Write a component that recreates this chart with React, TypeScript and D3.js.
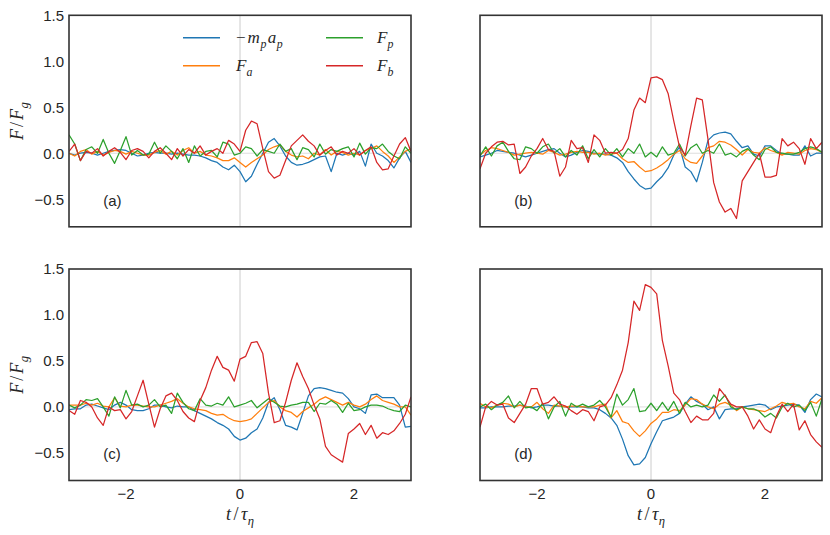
import React from "react";
import * as d3 from "d3";

// ---------- data ----------
const tGrid = d3.range(-30, 31).map((k) => k / 10);

const seriesNames = ["-m_p a_p", "F_a", "F_p", "F_b"];
const seriesColors = ["#1f77b4", "#ff7f0e", "#2ca02c", "#d62728"];

const xTicks = [-2, 0, 2];
const xTickLabels = ["\u22122", "0", "2"];
const yTicks = [-0.5, 0, 0.5, 1.0, 1.5];
const yTickLabels = ["\u22120.5", "0.0", "0.5", "1.0", "1.5"];
const panelLabels = ["(a)", "(b)", "(c)", "(d)"];

// panel (a)
const aBlue = [0.0, -0.02, 0.0, 0.01, 0.0, -0.02, 0.0, 0.02, 0.03, 0.04, 0.03, 0.0, -0.03, -0.02, 0.0, 0.01, 0.0, 0.0, -0.01, 0.0, -0.01, -0.02, -0.02, -0.03, -0.05, -0.08, -0.1, -0.15, -0.18, -0.13, -0.2, -0.31, -0.25, -0.12, 0.0, 0.12, 0.16, 0.08, -0.03, -0.1, -0.13, -0.12, -0.1, -0.07, -0.04, -0.03, -0.2, 0.0, -0.02, 0.0, -0.02, 0.02, -0.14, 0.1, 0.0, -0.03, -0.08, -0.16, -0.05, 0.02, -0.1];
const aOrange = [0.0, -0.03, 0.02, 0.04, -0.01, 0.02, -0.02, 0.01, 0.03, 0.02, -0.01, 0.02, 0.0, -0.02, -0.02, 0.01, 0.03, -0.01, 0.02, -0.02, 0.03, 0.06, 0.0, 0.02, -0.02, -0.03, -0.05, -0.08, -0.08, -0.05, -0.1, -0.15, -0.1, -0.06, -0.02, 0.04, 0.07, 0.09, 0.02, -0.02, -0.04, -0.03, -0.06, 0.0, -0.02, 0.04, -0.02, 0.02, 0.01, -0.02, 0.0, -0.02, 0.03, 0.05, 0.08, 0.02, -0.03, -0.1, -0.04, 0.02, 0.05];
const aGreen = [0.2, 0.1, -0.08, 0.04, 0.07, 0.0, 0.15, 0.0, -0.11, 0.03, 0.18, -0.02, 0.03, -0.02, -0.01, 0.12, 0.0, 0.08, 0.02, -0.06, 0.05, -0.1, 0.08, -0.03, 0.02, 0.03, -0.04, 0.12, 0.1, -0.02, 0.0, 0.07, 0.05, -0.03, 0.04, 0.02, 0.0, 0.1, 0.02, 0.05, -0.07, 0.06, 0.04, -0.04, 0.1, -0.01, 0.04, 0.02, 0.05, 0.07, -0.04, 0.11, -0.01, 0.06, 0.05, 0.1, 0.02, -0.03, -0.06, 0.07, 0.0];
const aRed = [0.02, 0.1, -0.08, 0.02, 0.0, 0.05, -0.03, 0.02, 0.06, 0.01, -0.07, 0.03, 0.05, 0.02, -0.05, 0.02, 0.06, 0.0, -0.07, 0.05, -0.03, 0.04, 0.0, 0.08, -0.02, 0.02, 0.05, 0.0, 0.14, 0.1, 0.02, 0.25, 0.35, 0.32, 0.05, -0.2, -0.27, -0.24, -0.08, 0.08, 0.14, 0.2, 0.13, 0.08, -0.02, 0.03, 0.07, -0.02, 0.02, 0.0, 0.05, -0.02, 0.03, 0.07, -0.1, -0.18, -0.17, -0.03, 0.1, 0.17, 0.02];

// panel (b)
const bBlue = [-0.04, -0.02, 0.0, 0.03, 0.02, 0.01, 0.0, -0.02, -0.04, -0.02, 0.0, 0.02, 0.04, 0.05, 0.0, -0.04, -0.02, 0.01, 0.03, 0.02, 0.0, -0.01, -0.01, -0.02, -0.05, -0.1, -0.2, -0.28, -0.35, -0.39, -0.38, -0.31, -0.25, -0.16, -0.02, 0.07, -0.15, -0.2, -0.31, -0.1, 0.14, 0.2, 0.22, 0.23, 0.21, 0.13, 0.06, 0.08, -0.01, -0.03, 0.08, 0.08, 0.03, -0.01, -0.01, -0.02, -0.02, 0.08, -0.03, 0.0, 0.0];
const bOrange = [-0.02, 0.03, 0.06, 0.05, 0.03, 0.01, -0.02, -0.01, 0.0, 0.01, 0.0, -0.01, 0.03, 0.01, -0.02, -0.01, 0.01, 0.02, 0.01, 0.01, -0.01, 0.0, -0.02, -0.01, 0.0, -0.06, -0.1, -0.09, -0.15, -0.2, -0.19, -0.16, -0.12, -0.07, -0.01, 0.03, -0.06, -0.1, -0.11, -0.03, 0.06, 0.08, 0.13, 0.12, 0.09, 0.04, -0.02, 0.04, 0.01, 0.0, 0.06, 0.03, 0.01, -0.02, 0.01, 0.0, -0.01, 0.03, 0.05, 0.04, 0.01];
const bGreen = [-0.03, 0.07, -0.03, 0.08, 0.12, 0.02, -0.06, -0.07, 0.07, 0.05, 0.0, 0.07, 0.1, 0.0, 0.05, -0.04, 0.03, -0.02, 0.08, -0.06, 0.04, -0.04, 0.05, -0.02, 0.05, -0.04, 0.05, 0.0, 0.1, -0.04, 0.01, -0.04, 0.07, -0.02, 0.0, 0.1, -0.03, 0.06, 0.1, 0.0, 0.03, 0.0, 0.1, -0.02, 0.0, -0.04, 0.02, 0.05, -0.02, -0.07, 0.04, 0.07, 0.01, 0.0, -0.01, -0.01, 0.01, 0.05, 0.07, 0.05, 0.01];
const bRed = [-0.17, 0.0, 0.07, 0.12, 0.13, 0.09, 0.1, -0.22, -0.15, -0.03, 0.05, 0.16, 0.04, 0.02, -0.25, -0.15, 0.14, 0.05, 0.06, -0.1, 0.2, 0.14, 0.0, 0.01, 0.0, 0.04, 0.16, 0.47, 0.6, 0.55, 0.82, 0.83, 0.8, 0.65, 0.35, 0.07, -0.02, 0.3, 0.6, 0.58, 0.15, -0.32, -0.53, -0.64, -0.6, -0.71, -0.3, -0.2, -0.1, 0.0, -0.26, -0.26, -0.24, 0.16, 0.08, 0.12, 0.05, -0.12, 0.16, 0.05, 0.12];

// panel (c)
const cBlue = [-0.03, -0.02, -0.02, 0.02, 0.03, 0.01, -0.01, -0.03, 0.02, 0.05, 0.02, -0.03, -0.04, -0.04, -0.02, 0.02, 0.02, 0.0, -0.01, 0.01, 0.0, 0.0, -0.04, -0.07, -0.1, -0.13, -0.17, -0.2, -0.24, -0.32, -0.36, -0.34, -0.28, -0.24, -0.12, 0.05, 0.1, -0.03, -0.2, -0.22, -0.25, -0.07, 0.12, 0.2, 0.21, 0.2, 0.18, 0.16, 0.15, 0.09, 0.0, -0.02, -0.07, 0.13, 0.14, 0.1, 0.1, 0.1, 0.02, -0.22, -0.21];
const cOrange = [0.02, 0.02, 0.02, 0.04, 0.02, 0.04, 0.01, 0.0, 0.1, 0.01, 0.0, 0.02, 0.02, 0.01, 0.0, 0.0, 0.02, 0.04, 0.06, 0.09, 0.04, 0.0, -0.02, -0.03, -0.04, -0.07, -0.09, -0.08, -0.12, -0.15, -0.16, -0.15, -0.13, -0.07, -0.01, 0.05, 0.07, 0.0, -0.04, -0.06, -0.11, -0.05, -0.01, 0.03, 0.08, 0.11, 0.08, 0.05, 0.02, 0.05, 0.02, 0.0, 0.03, 0.08, 0.12, 0.07, 0.05, 0.03, 0.0, 0.0, -0.09];
const cGreen = [0.02, -0.01, 0.02, 0.08, 0.07, 0.09, 0.0, -0.1, 0.11, -0.01, 0.18, 0.02, 0.03, 0.0, 0.02, 0.08, 0.0, 0.02, -0.07, 0.15, 0.05, -0.02, -0.04, 0.09, 0.02, 0.01, 0.04, 0.02, 0.11, 0.0, 0.02, 0.04, 0.07, -0.01, 0.04, 0.09, 0.05, 0.01, 0.0, 0.02, 0.03, 0.05, 0.05, -0.05, 0.04, 0.03, 0.07, 0.03, -0.06, 0.04, -0.04, -0.03, 0.0, 0.02, 0.02, 0.01, -0.02, -0.04, -0.05, 0.02, 0.0];
const cRed = [-0.04, -0.08, 0.07, 0.05, 0.0, -0.12, -0.2, 0.0, -0.04, -0.03, -0.13, -0.05, 0.12, 0.29, 0.03, -0.22, -0.02, 0.12, 0.15, 0.07, -0.05, -0.12, -0.16, 0.07, 0.21, 0.4, 0.55, 0.43, 0.4, 0.28, 0.52, 0.55, 0.7, 0.71, 0.58, 0.15, -0.17, -0.15, 0.05, 0.29, 0.48, 0.33, 0.2, 0.02, -0.13, -0.43, -0.52, -0.56, -0.6, -0.29, -0.24, -0.18, -0.3, -0.2, -0.34, -0.28, -0.3, -0.26, -0.18, -0.08, 0.11];

// panel (d)
const dBlue = [-0.01, -0.01, 0.0, 0.0, 0.0, 0.01, 0.01, 0.02, 0.01, -0.01, 0.0, 0.02, 0.02, 0.01, 0.01, 0.0, 0.0, 0.0, 0.0, -0.01, -0.01, -0.03, -0.07, -0.12, -0.2, -0.35, -0.53, -0.63, -0.62, -0.55, -0.4, -0.27, -0.15, -0.13, -0.11, -0.07, 0.03, 0.11, 0.06, 0.03, -0.03, 0.0, -0.13, -0.03, -0.02, -0.02, 0.0, 0.01, 0.02, 0.03, 0.02, -0.03, 0.0, 0.01, 0.02, 0.03, 0.02, -0.06, 0.08, 0.14, 0.11];
const dOrange = [0.04, 0.0, -0.01, 0.02, 0.04, 0.03, 0.0, 0.02, 0.0, 0.0, 0.05, -0.02, -0.07, 0.02, 0.01, 0.0, 0.01, 0.01, 0.0, 0.0, 0.0, 0.02, 0.03, -0.12, -0.04, -0.16, -0.18, -0.26, -0.32, -0.26, -0.18, -0.13, -0.06, -0.06, -0.03, -0.04, 0.02, 0.09, 0.08, 0.03, 0.0, -0.02, 0.03, 0.05, 0.02, -0.04, 0.0, -0.02, -0.03, -0.04, -0.05, -0.02, 0.01, 0.05, 0.03, 0.04, 0.0, -0.02, 0.06, 0.04, 0.1];
const dGreen = [0.0, 0.03, -0.03, 0.02, 0.05, 0.12, -0.01, 0.06, -0.01, 0.0, -0.04, 0.04, -0.13, 0.0, 0.06, -0.1, 0.04, 0.0, 0.03, 0.0, 0.02, 0.07, 0.0, -0.11, 0.14, 0.02, 0.08, 0.2, -0.05, -0.04, 0.04, -0.04, 0.05, -0.04, 0.06, -0.07, 0.05, 0.0, 0.02, 0.0, 0.02, 0.13, 0.06, 0.13, 0.0, -0.03, 0.0, -0.02, -0.02, -0.05, -0.11, -0.07, -0.12, 0.0, 0.04, 0.0, 0.02, -0.04, 0.05, -0.1, 0.09];
const dRed = [-0.22, 0.0, 0.06, 0.02, 0.03, -0.12, -0.17, -0.07, 0.03, 0.2, 0.2, 0.03, 0.05, 0.11, 0.03, 0.01, -0.04, -0.08, -0.03, -0.05, -0.15, 0.0, 0.02, 0.1, 0.24, 0.4, 0.7, 1.15, 1.05, 1.33, 1.3, 1.23, 0.72, 0.45, 0.15, 0.08, -0.05, -0.17, -0.1, -0.14, -0.14, -0.07, 0.2, 0.12, 0.03, 0.0, 0.0, -0.1, -0.24, -0.14, -0.24, -0.28, -0.1, 0.03, -0.05, 0.03, -0.25, -0.15, -0.3, -0.38, -0.44];

const panelSeries = [
  [aBlue, aOrange, aGreen, aRed],
  [bBlue, bOrange, bGreen, bRed],
  [cBlue, cOrange, cGreen, cRed],
  [dBlue, dOrange, dGreen, dRed],
];

// ---------- layout ----------
const W = 830;
const H = 535;
const PW = 342;
const PH = 211.5;
const colX = [69, 480];
const rowY = [15.3, 269];
const TXT = "#262626";
const SANS = "'Liberation Sans', Arial, sans-serif";
const SERIF = "'Liberation Serif', 'DejaVu Serif', serif";

type Part = { t: string; it?: boolean; sub?: boolean; dx?: number };

function MathText({ parts, size, ...rest }: { parts: Part[]; size: number; [k: string]: any }) {
  let inSub = false;
  const shift = size * 0.3;
  const spans = parts.map((p, i) => {
    let dy: number | undefined;
    if (p.sub && !inSub) {
      dy = shift;
      inSub = true;
    } else if (!p.sub && inSub) {
      dy = -shift;
      inSub = false;
    }
    return (
      <tspan key={i} dy={dy} dx={p.dx} fontStyle={p.it || p.sub ? "italic" : "normal"} fontSize={p.sub ? size * 0.7 : size}>
        {p.t}
      </tspan>
    );
  });
  return (
    <text fontFamily={SERIF} fill={TXT} {...rest}>
      {spans}
    </text>
  );
}

const legendParts: Part[][] = [
  [{ t: "\u2212" }, { t: "m", it: true, dx: 2 }, { t: "p", sub: true, dx: 0.5 }, { t: "a", it: true, dx: 1.5 }, { t: "p", sub: true, dx: 0.5 }],
  [{ t: "F", it: true }, { t: "a", sub: true }],
  [{ t: "F", it: true }, { t: "p", sub: true }],
  [{ t: "F", it: true }, { t: "b", sub: true }],
];

const yLabelParts: Part[] = [{ t: "F", it: true }, { t: "/", dx: 2 }, { t: "F", it: true, dx: 2 }, { t: "g", sub: true, dx: 0.5 }];
const xLabelParts: Part[] = [{ t: "t", it: true }, { t: "/", dx: 2.5 }, { t: "\u03c4", it: true, dx: 2.5 }, { t: "\u03b7", sub: true, dx: 0.5 }];

function Panel({ idx }: { idx: number }) {
  const col = idx % 2;
  const row = Math.floor(idx / 2);
  const x0 = colX[col];
  const y0 = rowY[row];
  const x = d3.scaleLinear().domain([-3, 3]).range([x0, x0 + PW]);
  const y = d3.scaleLinear().domain([-0.8, 1.5]).range([y0 + PH, y0]);
  const line = d3
    .line<number>()
    .x((_, i) => x(tGrid[i]))
    .y((d) => y(d));
  const clipId = `clip${idx}`;
  return (
    <g>
      <defs>
        <clipPath id={clipId}>
          <rect x={x0} y={y0} width={PW} height={PH} />
        </clipPath>
      </defs>
      <rect x={x0} y={y0} width={PW} height={PH} fill="#fff" />
      <g clipPath={`url(#${clipId})`}>
        <line x1={x(0)} x2={x(0)} y1={y0} y2={y0 + PH} stroke="#cccccc" strokeWidth={1} />
        <line x1={x0} x2={x0 + PW} y1={y(0)} y2={y(0)} stroke="#d4d4d4" strokeWidth={0.8} />
        {panelSeries[idx].map((s, k) => (
          <path key={k} d={line(s) || ""} fill="none" stroke={seriesColors[k]} strokeWidth={1.25} strokeLinejoin="round" />
        ))}
      </g>
      <rect x={x0} y={y0} width={PW} height={PH} fill="none" stroke="#333333" strokeWidth={1.6} />
      <text x={x0 + PW * 0.1} y={y0 + PH * 0.9} fontFamily={SANS} fontSize={15} fill={TXT}>
        {panelLabels[idx]}
      </text>
      {col === 0 &&
        yTicks.map((v, i) => (
          <text key={i} x={x0 - 5} y={y(v)} dy="0.36em" textAnchor="end" fontFamily={SANS} fontSize={15} fill={TXT}>
            {yTickLabels[i]}
          </text>
        ))}
      {row === 1 &&
        xTicks.map((v, i) => (
          <text key={i} x={x(v)} y={y0 + PH + 18.5} textAnchor="middle" fontFamily={SANS} fontSize={15} fill={TXT}>
            {xTickLabels[i]}
          </text>
        ))}
      {col === 0 && (
        <g transform={`translate(23, ${y0 + PH / 2}) rotate(-90)`}>
          <MathText parts={yLabelParts} size={18} x={0} y={0} textAnchor="middle" />
        </g>
      )}
      {row === 1 && <MathText parts={xLabelParts} size={18} x={x(0)} y={519.5} textAnchor="middle" />}
      {idx === 0 && (
        <g>
          {seriesNames.map((_, k) => {
            const c = k < 2 ? 0 : 1;
            const r = k % 2;
            const lx = [183, 326][c];
            const tx = [236, 377][c];
            const ly = 37.7 + r * 28;
            return (
              <g key={k}>
                <line x1={lx} x2={lx + 37} y1={ly} y2={ly} stroke={seriesColors[k]} strokeWidth={1.5} />
                <MathText parts={legendParts[k]} size={17} x={tx} y={ly + 5} />
              </g>
            );
          })}
        </g>
      )}
    </g>
  );
}

export default function App() {
  return (
    <svg width={W} height={H} viewBox={`0 0 ${W} ${H}`} style={{ position: "absolute", left: 0, top: 0, background: "#fff" }}>
      {[0, 1, 2, 3].map((i) => (
        <Panel key={i} idx={i} />
      ))}
    </svg>
  );
}
